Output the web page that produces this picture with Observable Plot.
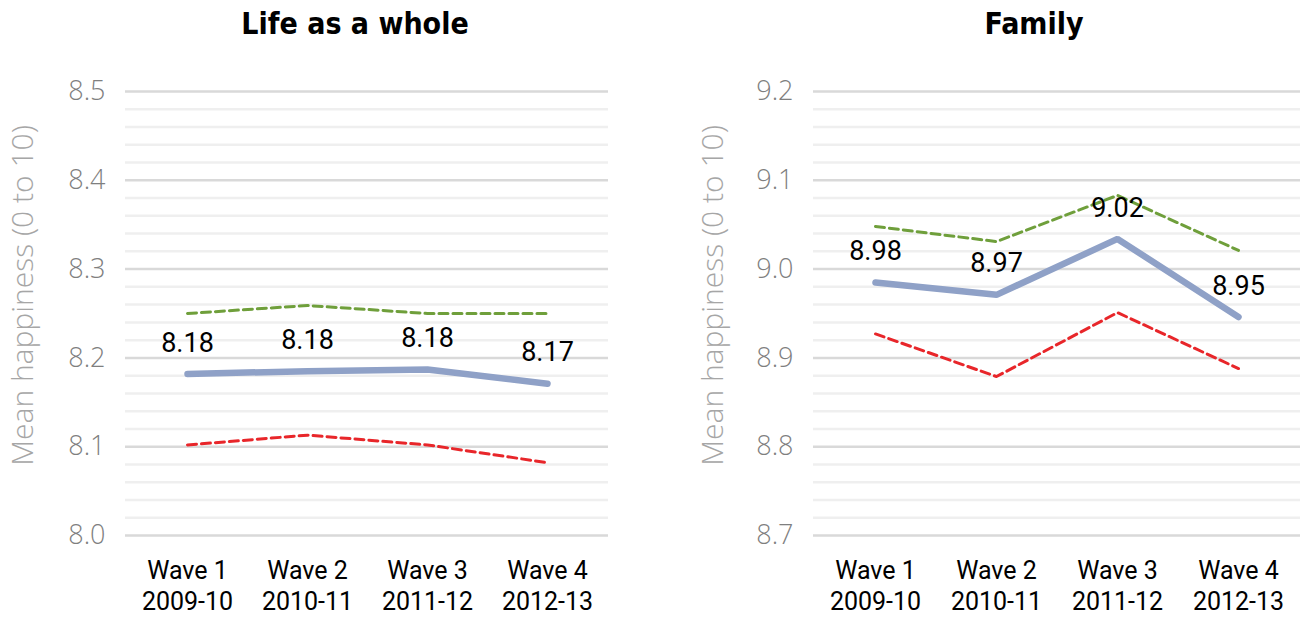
<!DOCTYPE html>
<html>
<head>
<meta charset="utf-8">
<script src="https://cdn.jsdelivr.net/npm/d3@7"></script>
<script src="https://cdn.jsdelivr.net/npm/@observablehq/plot@0.6"></script>
<style>
  html, body { margin: 0; padding: 0; background: #fff; }
  #wrap { display: flex; flex-direction: row; width: 1304px; height: 617px; }
</style>
</head>
<body>
<div id="wrap"></div>
<script>
// ---- data ----
const waves = ["Wave 1\n2009-10", "Wave 2\n2010-11", "Wave 3\n2011-12", "Wave 4\n2012-13"];
const panelTitles = ["Life as a whole", "Family"];
const yLabel = "Mean happiness (0 to 10)";

const lifeMean  = [8.182, 8.185, 8.187, 8.171];
const lifeUpper = [8.250, 8.259, 8.250, 8.250];
const lifeLower = [8.102, 8.113, 8.102, 8.082];
const lifeLabels = ["8.18", "8.18", "8.18", "8.17"];
const lifeTicks = [8.0, 8.1, 8.2, 8.3, 8.4, 8.5];
const lifeTickLabels = ["8.0", "8.1", "8.2", "8.3", "8.4", "8.5"];

const famMean  = [8.985, 8.971, 9.034, 8.946];
const famUpper = [9.048, 9.031, 9.083, 9.021];
const famLower = [8.927, 8.879, 8.951, 8.888];
const famLabels = ["8.98", "8.97", "9.02", "8.95"];
const famTicks = [8.7, 8.8, 8.9, 9.0, 9.1, 9.2];
const famTickLabels = ["8.7", "8.8", "8.9", "9.0", "9.1", "9.2"];

const minorPerMajor = 5;

function rows(vals) { return vals.map((v, i) => ({wave: waves[i], value: v})); }

function panel({title, mean, upper, lower, labels, ticks, tickLabels, marginLeft, marginRight, titleDx, yTitleDx}) {
  const minor = [];
  for (let i = 0; i < ticks.length - 1; i++) {
    const step = (ticks[i + 1] - ticks[i]) / minorPerMajor;
    for (let k = 1; k < minorPerMajor; k++) minor.push(ticks[i] + k * step);
  }
  const tickRows = ticks.map((t, i) => ({t, label: tickLabels[i]}));
  const meanRows = rows(mean).map((d, i) => ({...d, label: labels[i]}));
  return Plot.plot({
    width: 652,
    height: 617,
    marginTop: 91,
    marginBottom: 82,
    marginLeft,
    marginRight,
    style: {background: "#fff", overflow: "visible"},
    x: {type: "point", domain: waves, padding: 0.5, axis: null},
    y: {domain: [ticks[0], ticks[ticks.length - 1]], axis: null},
    marks: [
      Plot.ruleY(minor, {stroke: "#efefef", strokeWidth: 2.5}),
      Plot.ruleY(ticks, {stroke: "#d9d9d9", strokeWidth: 2.5}),
      Plot.text(tickRows, {y: "t", text: "label", frameAnchor: "left", textAnchor: "end", dx: -20,
        fontSize: 27, fontWeight: 300, fontFamily: "'Open Sans', Lato, sans-serif", fill: "#7f7f7f"}),
      Plot.text([yLabel], {frameAnchor: "left", textAnchor: "middle", rotate: -90, dx: yTitleDx, dy: -18,
        fontSize: 30, fontWeight: 300, fontFamily: "'Open Sans', Lato, sans-serif", fill: "#a6a6a6"}),
      Plot.text([title], {frameAnchor: "top", dx: titleDx, dy: -79, fontSize: 30, fontWeight: "bold",
        fontFamily: "'Liberation Sans Narrow', 'DejaVu Sans Condensed', Roboto, sans-serif", fill: "#000"}),
      Plot.text(waves, {x: d => d, text: d => d, frameAnchor: "bottom", lineAnchor: "top", dy: 21,
        lineHeight: 1.25, fontSize: 25, fontFamily: "Roboto, sans-serif", fill: "#000"}),
      Plot.line(rows(upper), {x: "wave", y: "value", stroke: "#6f9f3b", strokeWidth: 3, strokeDasharray: "9,5"}),
      Plot.line(rows(lower), {x: "wave", y: "value", stroke: "#e8262a", strokeWidth: 3, strokeDasharray: "9,5"}),
      Plot.line(meanRows, {x: "wave", y: "value", stroke: "#8fa1c7", strokeWidth: 6.5, strokeLinecap: "round", strokeLinejoin: "miter"}),
      Plot.text(meanRows, {x: "wave", y: "value", text: "label", dy: -31, fontSize: 27,
        fontFamily: "Roboto, sans-serif", fill: "#000"})
    ]
  });
}

const wrap = document.getElementById("wrap");
wrap.append(panel({
  title: panelTitles[0], mean: lifeMean, upper: lifeUpper, lower: lifeLower, labels: lifeLabels,
  ticks: lifeTicks, tickLabels: lifeTickLabels, marginLeft: 125, marginRight: 44, titleDx: -12, yTitleDx: -102
}));
wrap.append(panel({
  title: panelTitles[1], mean: famMean, upper: famUpper, lower: famLower, labels: famLabels,
  ticks: famTicks, tickLabels: famTickLabels, marginLeft: 161, marginRight: 4, titleDx: -23, yTitleDx: -100
}));
</script>
</body>
</html>
